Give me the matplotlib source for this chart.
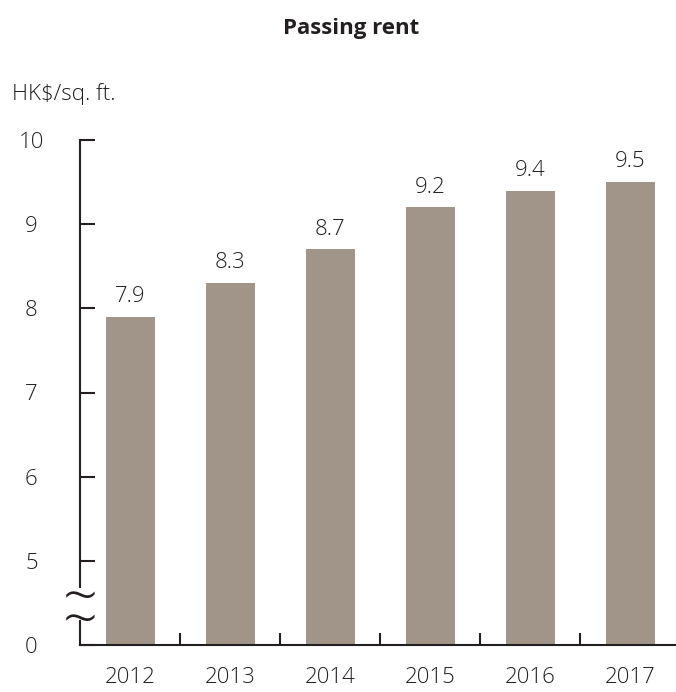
import matplotlib
matplotlib.use('Agg')
import matplotlib.pyplot as plt
from matplotlib.patches import Rectangle
import numpy as np

years = ['2012', '2013', '2014', '2015', '2016', '2017']
rent = [7.9, 8.3, 8.7, 9.2, 9.4, 9.5]
y_ticks = [0, 5, 6, 7, 8, 9, 10]

bar_color = '#a19589'
ink = '#231f20'

plt.rcParams['font.family'] = ['Open Sans', 'DejaVu Sans']
plt.rcParams['font.weight'] = 'light'


def fwd(y):
    # squeeze 0-5 into a single unit so the axis can be broken
    y = np.asarray(y, dtype=float)
    return np.where(y >= 5, y, 4 + y / 5)


def inv(u):
    u = np.asarray(u, dtype=float)
    return np.where(u >= 5, u, (u - 4) * 5)


fig = plt.figure(figsize=(6.76, 6.92), dpi=100)
ax = fig.add_axes([80 / 676, 47 / 692, 596 / 676, 505 / 692])
ax.set_yscale('function', functions=(fwd, inv))

x = np.arange(len(years))
bars = ax.bar(x, rent, width=0.49, color=bar_color, zorder=2)
ax.bar_label(bars, labels=[f'{v:.1f}' for v in rent], padding=7,
             fontsize=16, color=ink)

ax.set_ylim(0, 10)
ax.set_xlim(-0.5, 5.46)

for side in ['top', 'right']:
    ax.spines[side].set_visible(False)
for side in ['left', 'bottom']:
    ax.spines[side].set_linewidth(1.5)
    ax.spines[side].set_color(ink)

ax.set_yticks(y_ticks)
ax.set_yticklabels([str(t) for t in y_ticks])
ax.yaxis.set_minor_locator(matplotlib.ticker.NullLocator())
ax.tick_params(axis='y', direction='in', length=11, width=1.5, color=ink,
               labelsize=16, labelcolor=ink, pad=35)
for lab in ax.get_yticklabels():
    lab.set_horizontalalignment('center')

ax.set_xticks(x)
ax.set_xticklabels(years)
ax.set_xticks(x[:-1] + 0.5, minor=True)
ax.tick_params(axis='x', which='major', length=0, labelsize=16,
               labelcolor=ink, pad=16)
ax.tick_params(axis='x', which='minor', direction='in', length=9,
               width=1.5, color=ink)

# break in the value axis: cut the spine, then two tildes
ytrans = ax.get_yaxis_transform()
ax.add_patch(Rectangle((-0.01, 1.5), 0.02, 1.9, transform=ytrans,
                       facecolor='white', edgecolor='none', zorder=4,
                       clip_on=False))
ax.text(0.0, 2.0, '~\n~', transform=ytrans, ha='center', va='center',
        fontsize=44, linespacing=0.17, color=ink, zorder=5, clip_on=False)

fig.text(351 / 676, 1 - 34 / 692, 'Passing rent', ha='center',
         va='baseline', fontsize=16, fontweight='bold', color=ink)
fig.text(12 / 676, 1 - 100 / 692, 'HK$/sq. ft.', ha='left',
         va='baseline', fontsize=16, color=ink)

fig.savefig('out.png', dpi=100)
